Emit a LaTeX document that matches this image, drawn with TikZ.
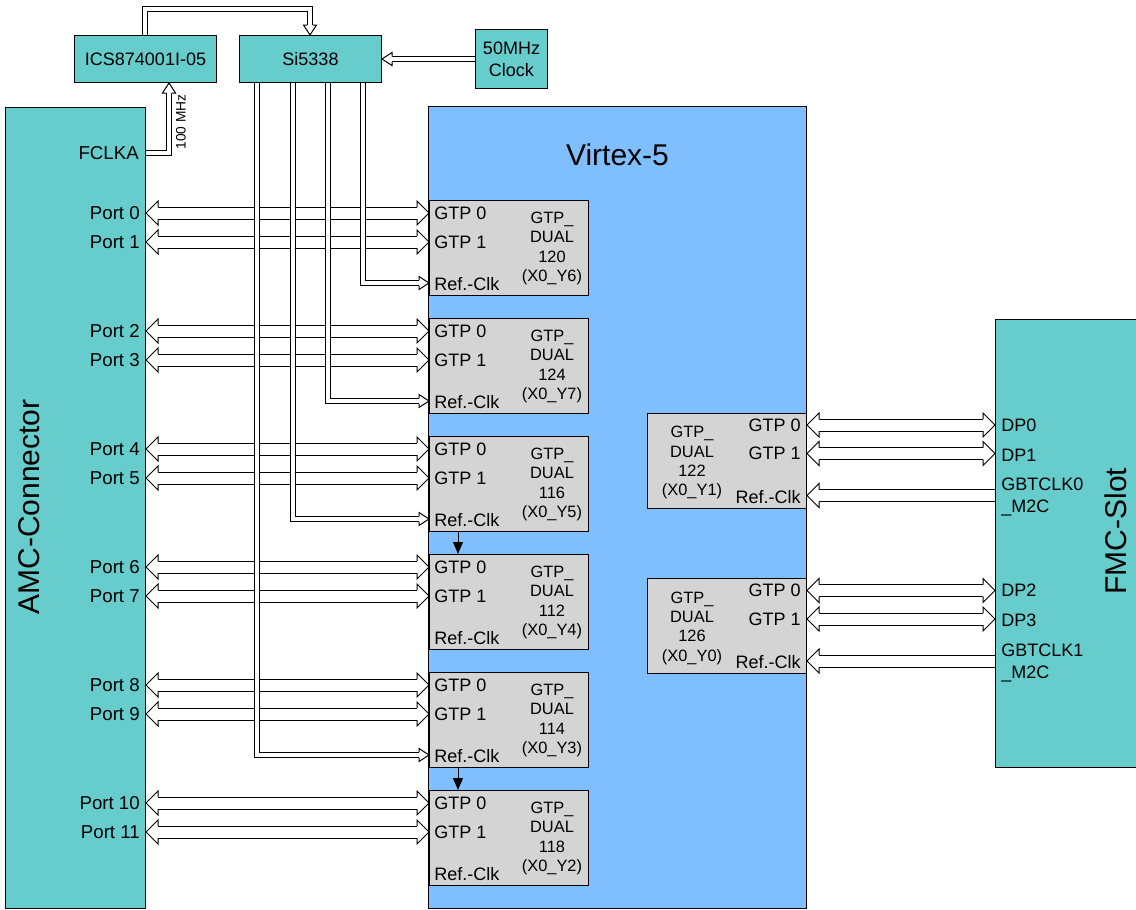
\documentclass[tikz,border=0pt]{standalone}
\usepackage{fontspec}
\setmainfont{Liberation Sans}
\usetikzlibrary{calc,arrows.meta}
\definecolor{tealA}{HTML}{66CCCC}
\definecolor{vblue}{HTML}{80BFFF}
\definecolor{gboxc}{HTML}{D4D4D4}
\newcommand\dualarrow[2]{%
  \draw[bigshaft] ($(#1)+(12,0)$) -- ($(#2)-(12,0)$);
  \pic[rotate=180] at (#1) {bighead};
  \pic at (#2) {bighead};}
\begin{document}
\begin{tikzpicture}[x=0.75pt,y=-0.75pt,
  lbl/.style={inner sep=0pt, font=\fontsize{13.5}{16.5}\selectfont},
  portlbl/.style={inner sep=0pt, font=\fontsize{14}{16.5}\selectfont},
  duallbl/.style={inner sep=0pt, align=center, font=\fontsize{12.3}{14.5}\selectfont},
  bigtitle/.style={inner sep=0pt, font=\fontsize{22.5}{26}\selectfont},
  tealbox/.style={draw=black, fill=tealA, line width=0.75pt, inner sep=0pt, anchor=north west, font=\fontsize{13.5}{16.5}\selectfont},
  gtpbox/.style={draw=black, fill=gboxc, line width=0.75pt, inner sep=0pt, anchor=north west, minimum width=119.25pt, minimum height=71.25pt},
  bigshaft/.style={draw=black, line width=0.75pt, double=white, double distance=8.25pt},
  clkshaft/.style={draw=black, line width=0.75pt, double=white, double distance=3.375pt, line join=miter},
  headstyle/.style={fill=white, draw=black, line width=0.75pt, line join=miter},
  blk/.style={line width=0.75pt, -{Triangle[length=9pt, width=7.5pt]}},
  pics/bighead/.style={code={\filldraw[headstyle] (-12,6) -- (-12,12) -- (0,0) -- (-12,-12) -- (-12,-6);}},
  pics/smallhead/.style={code={\filldraw[headstyle] (-10,2.75) -- (-10,6.5) -- (0,0) -- (-10,-6.5) -- (-10,-2.75);}},
]
\useasboundingbox (0,0) rectangle (1136,910);
% big blocks
\node[tealbox, minimum width=105pt, minimum height=600.75pt] (amc) at (5,107) {};
\node[draw=black, fill=vblue, line width=0.75pt, inner sep=0pt, anchor=north west, minimum width=283.5pt, minimum height=601.5pt] (virtex) at (428,106) {};
\node[tealbox, minimum width=106.5pt, minimum height=336pt] (fmc) at (995,319) {};
\node[bigtitle, rotate=90] (amclbl) at (29,507) {AMC-Connector};
\node[bigtitle, rotate=90] (fmclbl) at (1116,531) {FMC-Slot};
\node[bigtitle] (vlbl) at ($(virtex.north)+(0,49)$) {Virtex-5};
% clock chips
\node[tealbox, minimum width=106.5pt, minimum height=35.25pt] (ics) at (74,35) {ICS874001I-05};
\node[tealbox, minimum width=106.5pt, minimum height=35.25pt] (si) at (239,35) {Si5338};
\node[tealbox, minimum width=54pt, minimum height=44.25pt, align=center] (clk) at (475,29) {50MHz\\Clock};
% left GTP duals
\foreach \n/\t/\p/\yy in {120/200/0/6, 124/318/2/7, 116/436/4/5, 112/554/6/4, 114/672/8/3, 118/790/10/2} {
  \node[gtpbox] (g\n) at (429,\t) {};
  \node[lbl, anchor=west] (g\n-t0) at ($(g\n.north west)+(5,13)$) {GTP 0};
  \node[lbl, anchor=west] (g\n-t1) at ($(g\n.north west)+(5,42)$) {GTP 1};
  \node[lbl, anchor=west] (g\n-tr) at ($(g\n.north west)+(5,84)$) {Ref.-Clk};
  \node[duallbl] (g\n-d) at ($(g\n.north west)+(123,48.5)$) {GTP\_\\DUAL\\\n\\(X0\_Y\yy)};
  \coordinate (g\n-a) at ($(g\n.north west)+(0,13)$);
  \coordinate (g\n-b) at ($(g\n.north west)+(0,42)$);
  \coordinate (g\n-r) at ($(g\n.north west)+(0,83)$);
  \pgfmathtruncatemacro\q{\p+1}
  \coordinate (port\p) at (amc.east |- g\n-a);
  \coordinate (port\q) at (amc.east |- g\n-b);
  \node[portlbl, anchor=east] (pl\p) at ($(port\p)-(6,0)$) {Port \p};
  \node[portlbl, anchor=east] (pl\q) at ($(port\q)-(6,0)$) {Port \q};
  \dualarrow{port\p}{g\n-a}
  \dualarrow{port\q}{g\n-b}
}
% right GTP duals
\foreach \n/\t/\dp/\ck/\yy in {122/412.5/0/0/1, 126/578/2/1/0} {
  \node[gtpbox] (g\n) at (647,\t) {};
  \node[lbl, anchor=east] (g\n-t0) at ($(g\n.north east)+(-6,12.5)$) {GTP 0};
  \node[lbl, anchor=east] (g\n-t1) at ($(g\n.north east)+(-6,41)$) {GTP 1};
  \node[lbl, anchor=east] (g\n-tr) at ($(g\n.north east)+(-6,84)$) {Ref.-Clk};
  \node[duallbl] (g\n-d) at ($(g\n.north west)+(45,48.5)$) {GTP\_\\DUAL\\\n\\(X0\_Y\yy)};
  \coordinate (g\n-a) at ($(g\n.north east)+(0,12.5)$);
  \coordinate (g\n-b) at ($(g\n.north east)+(0,41)$);
  \coordinate (g\n-r) at ($(g\n.north east)+(0,83)$);
  \pgfmathtruncatemacro\q{\dp+1}
  \coordinate (dp\dp) at (fmc.west |- g\n-a);
  \coordinate (dp\q) at (fmc.west |- g\n-b);
  \coordinate (gbt\ck) at (fmc.west |- g\n-r);
  \node[lbl, anchor=west] (dpl\dp) at ($(dp\dp)+(6,0)$) {DP\dp};
  \node[lbl, anchor=west] (dpl\q) at ($(dp\q)+(6,1.5)$) {DP\q};
  \node[lbl, anchor=west, align=left] (gbl\ck) at ($(gbt\ck)+(6,0)$) {GBTCLK\ck\\\_M2C};
  \dualarrow{g\n-a}{dp\dp}
  \dualarrow{g\n-b}{dp\q}
  \draw[bigshaft] (gbt\ck) -- ($(g\n-r)+(12,0)$);
  \pic[rotate=180] at (g\n-r) {bighead};
}
% cascaded reference clocks
\draw[blk] ($(g116.south west)+(29,0)$) -- ($(g112.north west)+(29,0)$);
\draw[blk] ($(g114.south west)+(29,0)$) -- ($(g118.north west)+(29,0)$);
% Si5338 outputs
\draw[clkshaft] ($(si.south west)+(124,0)$) |- ($(g120-r)-(10,0)$);
\pic at (g120-r) {smallhead};
\draw[clkshaft] ($(si.south west)+(89,0)$) |- ($(g124-r)-(10,0)$);
\pic at (g124-r) {smallhead};
\draw[clkshaft] ($(si.south west)+(54,0)$) |- ($(g116-r)-(10,0)$);
\pic at (g116-r) {smallhead};
\draw[clkshaft] ($(si.south west)+(18,0)$) |- ($(g114-r)-(10,0)$);
\pic at (g114-r) {smallhead};
% ICS -> Si5338
\draw[clkshaft] ($(ics.north west)+(71,0)$) -- ++(0,-26) -| ($(si.north west)+(71,-10)$);
\pic[rotate=-90] at ($(si.north west)+(71,0)$) {smallhead};
% 50MHz -> Si5338
\draw[clkshaft] (clk.west) -- ($(si.east)+(10,0)$);
\pic[rotate=180] at (si.east) {smallhead};
% FCLKA -> ICS
\node[portlbl, anchor=east] (fclklbl) at (139,153) {FCLKA};
\draw[clkshaft] (amc.east |- fclklbl) -| ($(ics.south west)+(95,10)$);
\pic[rotate=90] at ($(ics.south west)+(95,0)$) {smallhead};
\node[inner sep=0pt, rotate=90, font=\fontsize{10.3}{12}\selectfont] (mhz) at (181,122) {100 MHz};
\end{tikzpicture}
\end{document}
